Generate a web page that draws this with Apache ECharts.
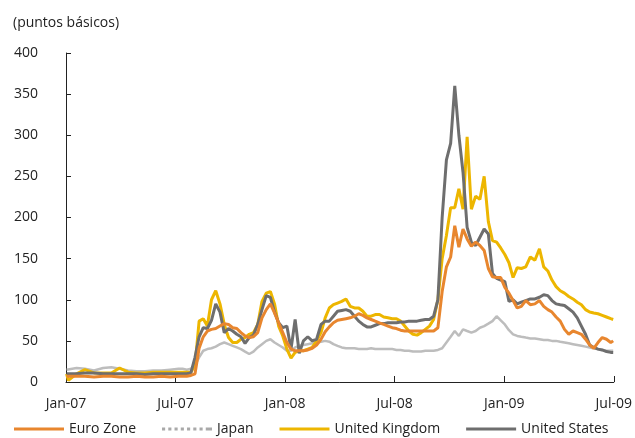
<!DOCTYPE html>
<html>
<head>
<meta charset="utf-8">
<script src="https://cdn.jsdelivr.net/npm/echarts@6/dist/echarts.min.js"></script>
<style>html,body{margin:0;padding:0;background:#fff}#c{width:635px;height:438px}</style>
</head>
<body>
<div id="c"></div>
<script>
const unitLabel = '(puntos básicos)';
const xTickLabels = ['Jan-07','Jul-07','Jan-08','Jul-08','Jan-09','Jul-09'];
const seriesNames = ['Euro Zone','Japan','United Kingdom','United States'];

const dates = [
  '2007-01-02','2007-01-05','2007-01-19','2007-02-02','2007-02-16','2007-03-02','2007-03-16','2007-03-30','2007-04-13','2007-04-27','2007-05-11','2007-05-25','2007-06-08','2007-06-22','2007-07-06',
  '2007-07-13','2007-07-20','2007-07-27','2007-08-03','2007-08-10','2007-08-17','2007-08-24','2007-08-31','2007-09-07','2007-09-14','2007-09-21','2007-09-28',
  '2007-10-05','2007-10-12','2007-10-19','2007-10-26','2007-11-02','2007-11-09','2007-11-16','2007-11-23','2007-11-30','2007-12-07','2007-12-14','2007-12-21','2007-12-28',
  '2008-01-04','2008-01-11','2008-01-18','2008-01-25','2008-02-01','2008-02-08','2008-02-15','2008-02-22','2008-02-29','2008-03-07','2008-03-14','2008-03-21','2008-03-28',
  '2008-04-04','2008-04-11','2008-04-18','2008-04-25','2008-05-02','2008-05-09','2008-05-16','2008-05-23','2008-05-30','2008-06-06','2008-06-13','2008-06-20','2008-06-27',
  '2008-07-04','2008-07-11','2008-07-18','2008-07-25','2008-08-01','2008-08-08','2008-08-15','2008-08-22','2008-08-29','2008-09-05','2008-09-12','2008-09-19','2008-09-26',
  '2008-10-03','2008-10-10','2008-10-17','2008-10-24','2008-10-31','2008-11-07','2008-11-14','2008-11-21','2008-11-28','2008-12-05','2008-12-12','2008-12-19','2008-12-26',
  '2009-01-02','2009-01-09','2009-01-16','2009-01-23','2009-01-30','2009-02-06','2009-02-13','2009-02-20','2009-02-27','2009-03-06','2009-03-13','2009-03-20','2009-03-27',
  '2009-04-03','2009-04-10','2009-04-17','2009-04-24','2009-05-01','2009-05-08','2009-05-15','2009-05-22','2009-05-29','2009-06-05','2009-06-12','2009-06-19','2009-06-26','2009-06-30'
];

const euroZone = [
  7,6,7,7,6,7,7,6,6,7,6,6,7,6,7,
  7,7,8,10,41,55,62,64,65,68,71,70,
  66,65,60,56,54,55,60,78,88,95,84,72,60,
  48,40,38,38,38,39,41,45,52,61,67,72,75,
  76,77,78,80,83,81,78,76,74,72,70,68,66,
  65,63,62,62,62,62,62,62,62,62,66,110,140,
  152,190,164,186,174,165,170,166,160,138,128,127,127,
  115,108,99,90,92,99,94,95,99,92,88,85,79,
  74,64,58,62,60,58,52,45,41,48,54,52,48,50
];

const japan = [
  15,16,17,16,14,17,18,16,14,13,13,14,14,15,16,
  16,15,16,20,30,38,40,41,43,46,48,46,
  44,42,40,37,34,37,42,46,50,52,48,45,42,
  38,38,42,44,45,46,47,48,49,50,49,46,44,
  42,41,41,41,40,40,40,41,40,40,40,40,40,
  39,39,38,38,37,37,37,38,38,38,39,41,48,
  55,62,56,64,62,60,62,66,68,71,74,80,75,
  70,63,58,56,55,54,53,53,52,51,51,50,50,
  49,48,47,46,45,44,43,42,41,40,39,38,38,38
];

const unitedKingdom = [
  10,2,10,15,11,11,11,17,12,11,11,12,12,12,12,
  12,12,12,20,74,77,68,100,111,95,70,54,
  48,48,52,54,58,60,70,98,108,110,95,68,56,
  40,29,36,38,38,40,42,50,60,78,90,94,96,
  98,101,92,90,90,86,80,80,82,82,79,78,77,
  77,74,68,62,58,57,60,64,68,76,100,150,178,
  212,212,235,210,298,210,226,222,250,195,172,170,163,
  155,145,127,139,138,140,152,148,162,140,135,124,116,
  111,108,104,101,97,94,88,85,84,83,81,79,77,76
];

const unitedStates = [
  10,10,10,11,11,10,10,10,10,10,9,10,10,10,10,
  10,10,11,30,55,66,65,75,95,85,60,65,
  62,58,55,47,54,57,70,88,105,103,85,72,66,
  68,40,76,35,50,55,50,52,70,74,74,80,86,
  87,88,86,80,74,70,67,67,69,71,71,72,72,
  72,73,73,74,74,74,75,76,76,80,100,200,270,
  290,360,300,255,188,170,166,176,186,180,132,126,124,
  122,98,100,95,97,99,101,101,103,106,105,99,95,
  94,93,89,85,78,68,58,45,42,40,39,37,36,36
];

function monthPos(s) {
  const p = s.split('-').map(Number);
  const dim = new Date(Date.UTC(p[0], p[1], 0)).getUTCDate();
  return (p[0] - 2007) * 12 + (p[1] - 1) + (p[2] - 1) / dim;
}
function toData(vals) { return dates.map((d, i) => [monthPos(d), vals[i]]); }

const solidIcon = 'path://M0,0H48V3H0Z';
const dottedIcon = 'path://M0,0H3V3H0Z M6,0H9V3H6Z M12,0H15V3H12Z M18,0H21V3H18Z M24,0H27V3H24Z M30,0H33V3H30Z M36,0H39V3H36Z M42,0H45V3H42Z M45,0H48V3H45Z';

const FONT = 'Open Sans';
const chart = echarts.init(document.getElementById('c'), null, {renderer: 'canvas'});
chart.setOption({
  backgroundColor: '#fff',
  animation: false,
  textStyle: {fontFamily: FONT},
  title: {
    text: unitLabel, left: 8, top: 11,
    textStyle: {fontFamily: FONT, fontSize: 14, fontWeight: 'normal', color: '#222'}
  },
  grid: {left: 66, right: 18, top: 53, bottom: 56},
  xAxis: {
    type: 'value', min: 0, max: 30, interval: 6,
    axisLine: {lineStyle: {color: '#222', width: 1}},
    axisTick: {inside: true, length: 6, lineStyle: {color: '#222'}},
    splitLine: {show: false},
    axisLabel: {
      margin: 15, fontFamily: FONT, fontSize: 14, color: '#222',
      formatter: v => xTickLabels[Math.round(v / 6)]
    }
  },
  yAxis: {
    type: 'value', min: 0, max: 400, interval: 50,
    axisLine: {show: true, lineStyle: {color: '#222', width: 1}},
    axisTick: {show: true, inside: true, length: 5, lineStyle: {color: '#222'}},
    splitLine: {show: false},
    axisLabel: {margin: 28, fontFamily: FONT, fontSize: 14, color: '#222'}
  },
  legend: {
    bottom: -3, left: 9, itemWidth: 50, itemHeight: 3.5, itemGap: 26,
    textStyle: {fontFamily: FONT, fontSize: 14, color: '#222'},
    data: [
      {name: seriesNames[0], icon: solidIcon},
      {name: seriesNames[1], icon: dottedIcon, itemStyle: {color: '#A9A9A9'}},
      {name: seriesNames[2], icon: solidIcon},
      {name: seriesNames[3], icon: solidIcon}
    ]
  },
  series: [
    {name: seriesNames[0], type: 'line', data: toData(euroZone), symbol: 'none', z: 5,
     lineStyle: {color: '#E8862E', width: 3}, itemStyle: {color: '#E8862E'}},
    {name: seriesNames[1], type: 'line', data: toData(japan), symbol: 'none', z: 2,
     lineStyle: {color: '#BDBDBD', width: 2.5}, itemStyle: {color: '#BDBDBD'}},
    {name: seriesNames[2], type: 'line', data: toData(unitedKingdom), symbol: 'none', z: 3,
     lineStyle: {color: '#EDB600', width: 3}, itemStyle: {color: '#EDB600'}},
    {name: seriesNames[3], type: 'line', data: toData(unitedStates), symbol: 'none', z: 4,
     lineStyle: {color: '#6E6E6E', width: 3}, itemStyle: {color: '#6E6E6E'}}
  ]
});
</script>
</body>
</html>
